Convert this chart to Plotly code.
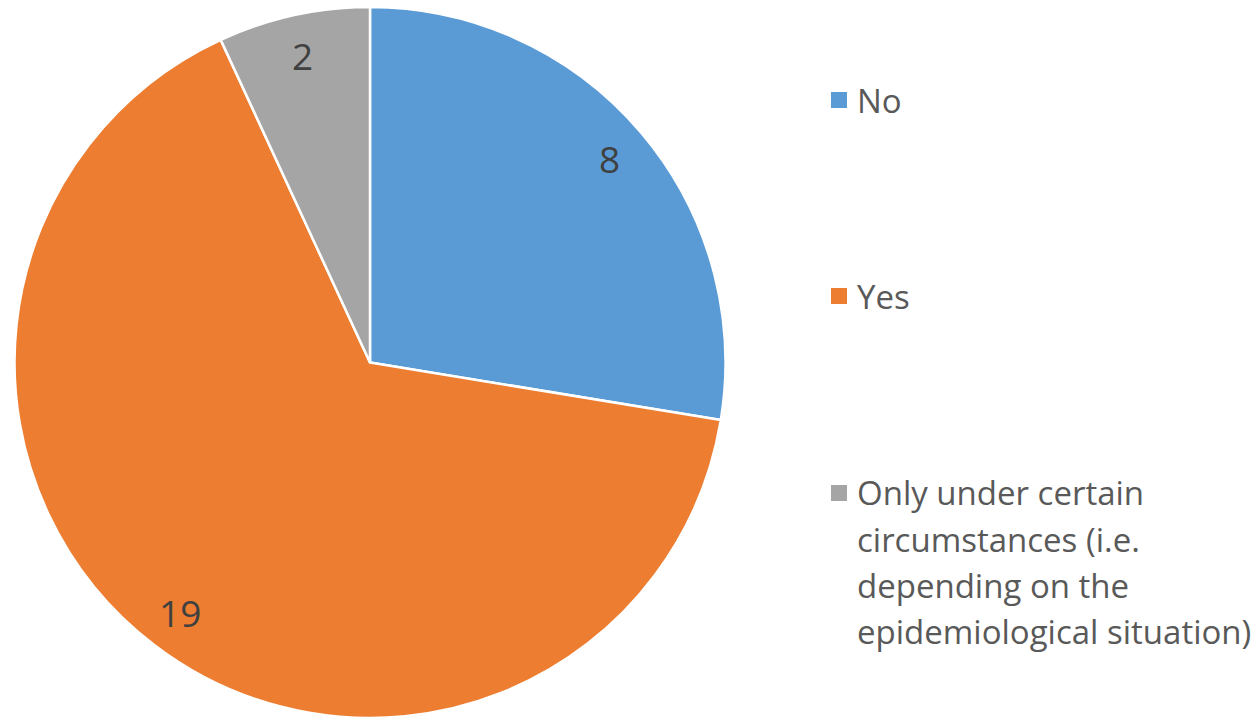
import math
import plotly.graph_objects as go

categories = ["No", "Yes", "Only under certain circumstances (i.e. depending on the epidemiological situation)"]
legend_lines = [["No"], ["Yes"], ["Only under certain", "circumstances (i.e.", "depending on the", "epidemiological situation)"]]
values = [8, 19, 2]
colors = ["#5B9BD5", "#ED7D31", "#A5A5A5"]

W, H = 1256, 718
FONT = "Open Sans"

# pie geometry in pixels
cx, cy, r = 370, 362.5, 355.5
dom_x = [(cx - r) / W, (cx + r) / W]
dom_y = [1 - (cy + r) / H, 1 - (cy - r) / H]

fig = go.Figure(go.Pie(
    labels=categories,
    values=values,
    sort=False,
    direction="clockwise",
    rotation=0,
    marker=dict(colors=colors, line=dict(color="white", width=2.5)),
    textinfo="none",
    hoverinfo="label+value",
    domain=dict(x=dom_x, y=dom_y),
    showlegend=False,
))

annotations = []
shapes = []

# value labels placed along each slice's mid-angle
total = sum(values)
start = 0.0
for v in values:
    mid = (start + v / 2) / total * 2 * math.pi
    start += v
    px = cx + 0.885 * r * math.sin(mid)
    py = cy - 0.885 * r * math.cos(mid)
    annotations.append(dict(
        x=px / W, y=1 - py / H, xref="paper", yref="paper",
        text=str(v), showarrow=False, xanchor="center", yanchor="middle",
        font=dict(family=FONT, size=37, color="#404040"),
    ))

# legend: colored squares with wrapped labels
item_y = [100, 296, 493]
line_gap = 46
for color, lines, y0 in zip(colors, legend_lines, item_y):
    shapes.append(dict(
        type="rect", xref="paper", yref="paper",
        x0=831 / W, x1=847 / W, y0=1 - (y0 + 8) / H, y1=1 - (y0 - 8) / H,
        fillcolor=color, line=dict(width=0),
    ))
    for i, line in enumerate(lines):
        annotations.append(dict(
            x=855 / W, y=1 - (y0 + i * line_gap) / H, xref="paper", yref="paper",
            text=line, showarrow=False, xanchor="left", yanchor="middle",
            font=dict(family=FONT, size=33, color="#595959"),
        ))

fig.update_layout(
    width=W, height=H,
    margin=dict(l=0, r=0, t=0, b=0),
    paper_bgcolor="white",
    plot_bgcolor="white",
    annotations=annotations,
    shapes=shapes,
)

fig.write_html("out.html")
